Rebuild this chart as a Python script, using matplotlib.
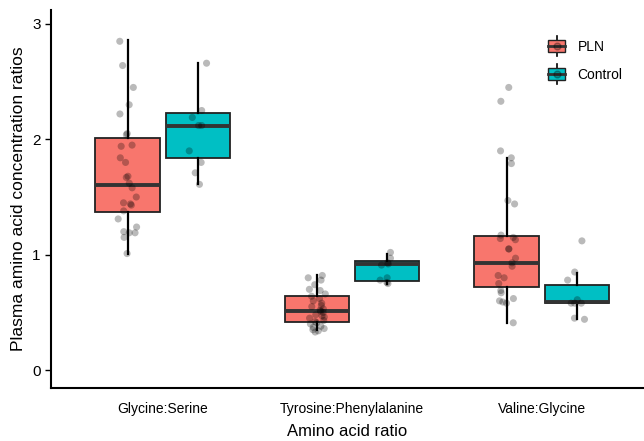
import numpy as np
import matplotlib
matplotlib.use("Agg")
import matplotlib.pyplot as plt
from matplotlib.legend_handler import HandlerBase
from matplotlib.patches import Rectangle, Patch
from matplotlib.lines import Line2D

plt.rcParams['font.family'] = ['Liberation Sans', 'DejaVu Sans']

# categories and groups
ratios = ["Glycine:Serine", "Tyrosine:Phenylalanine", "Valine:Glycine"]
groups = ["PLN", "Control"]
colors = {"PLN": "#F8766D", "Control": "#00BFC4"}

# box statistics (one value per ratio)
pln_q1 = [1.37, 0.42, 0.72]
pln_med = [1.60, 0.51, 0.93]
pln_q3 = [2.01, 0.64, 1.16]
pln_lo = [1.01, 0.35, 0.41]
pln_hi = [2.86, 0.82, 1.84]

ctl_q1 = [1.84, 0.77, 0.58]
ctl_med = [2.12, 0.92, 0.59]
ctl_q3 = [2.23, 0.945, 0.74]
ctl_lo = [1.61, 0.75, 0.44]
ctl_hi = [2.66, 1.01, 0.84]

# individual observations
pln_gly_ser = [2.85, 2.64, 2.45, 2.30, 2.22, 2.04, 2.05, 1.94, 1.95, 1.84, 1.80,
               1.68, 1.67, 1.62, 1.58, 1.50, 1.45, 1.44, 1.43, 1.38, 1.31, 1.24,
               1.20, 1.15, 1.19, 1.19, 1.01]
ctl_gly_ser = [2.66, 2.25, 2.19, 2.12, 2.12, 1.90, 1.80, 1.71, 1.61]
pln_tyr_phe = [0.82, 0.80, 0.78, 0.74, 0.70, 0.69, 0.66, 0.64, 0.62, 0.60, 0.58,
               0.56, 0.55, 0.53, 0.52, 0.51, 0.50, 0.48, 0.47, 0.46, 0.45, 0.43,
               0.42, 0.41, 0.40, 0.38, 0.37, 0.36, 0.35, 0.34, 0.33]
ctl_tyr_phe = [1.02, 0.97, 0.93, 0.92, 0.91, 0.80, 0.78, 0.76, 0.75]
pln_val_gly = [2.45, 2.33, 1.90, 1.84, 1.79, 1.47, 1.44, 1.17, 1.15, 1.14, 1.13,
               1.05, 1.05, 0.97, 0.93, 0.90, 0.82, 0.80, 0.75, 0.69, 0.67, 0.62,
               0.60, 0.59, 0.58, 0.41]
ctl_val_gly = [1.12, 0.85, 0.78, 0.61, 0.58, 0.58, 0.58, 0.45, 0.44]

points = {
    "PLN": [pln_gly_ser, pln_tyr_phe, pln_val_gly],
    "Control": [ctl_gly_ser, ctl_tyr_phe, ctl_val_gly],
}


def make_stats(q1, med, q3, lo, hi):
    return [dict(q1=a, med=b, q3=c, whislo=d, whishi=e, fliers=[])
            for a, b, c, d, e in zip(q1, med, q3, lo, hi)]


stats = {
    "PLN": make_stats(pln_q1, pln_med, pln_q3, pln_lo, pln_hi),
    "Control": make_stats(ctl_q1, ctl_med, ctl_q3, ctl_lo, ctl_hi),
}


class BoxHandler(HandlerBase):
    def create_artists(self, legend, orig_handle, xdescent, ydescent,
                       width, height, fontsize, trans):
        x0, y0 = -xdescent, -ydescent
        fc = orig_handle.get_facecolor()
        vl = Line2D([x0 + width / 2] * 2, [y0 - 0.35 * height, y0 + 1.35 * height],
                    color="black", lw=1.2, transform=trans)
        box = Rectangle((x0, y0), width, height, facecolor=fc,
                        edgecolor="#222222", lw=1.0, transform=trans)
        med = Line2D([x0, x0 + width], [y0 + height / 2] * 2,
                     color="#333333", lw=2, transform=trans)
        dot = Line2D([x0 + width / 2], [y0 + height / 2], marker="o", ms=5,
                     color="black", alpha=0.27, linestyle="none", transform=trans)
        return [vl, box, med, dot]


fig = plt.figure(figsize=(6.44, 4.41), dpi=100)
ax = fig.add_axes([0.079, 0.12, 0.921, 0.857])

x = np.arange(1, len(ratios) + 1)
offsets = {"PLN": -0.185, "Control": 0.185}
rng = np.random.default_rng(3)

for g in groups:
    pos = x + offsets[g]
    ax.bxp(stats[g], positions=pos, widths=0.34, patch_artist=True,
           showcaps=False, showfliers=False,
           boxprops=dict(facecolor=colors[g], edgecolor="#222222", linewidth=1.3),
           medianprops=dict(color="#333333", linewidth=2.8),
           whiskerprops=dict(color="black", linewidth=1.6))
    for p, vals in zip(pos, points[g]):
        jit = rng.uniform(-0.05, 0.05, len(vals))
        ax.scatter(p + jit, vals, s=26, color="black", alpha=0.27,
                   edgecolors="none", zorder=5)

ax.set_xlim(0.41, 3.54)
ax.set_ylim(-0.156, 3.12)
ax.set_xticks(x)
ax.set_xticklabels(ratios, fontsize=10)
ax.set_yticks([0, 1, 2, 3])
ax.tick_params(axis="y", labelsize=11, length=4, width=1)
ax.tick_params(axis="x", length=0, pad=10)
for s in ["top", "right"]:
    ax.spines[s].set_visible(False)
for s in ["left", "bottom"]:
    ax.spines[s].set_linewidth(1.5)

ax.set_xlabel("Amino acid ratio", fontsize=12, labelpad=6)
ax.set_ylabel("Plasma amino acid concentration ratios", fontsize=12.5, labelpad=4)

handles = [Patch(facecolor=colors[g]) for g in groups]
ax.legend(handles, groups, handler_map={Patch: BoxHandler()},
          loc="upper right", bbox_to_anchor=(0.985, 0.955), frameon=False,
          fontsize=10, handlelength=1.2, handleheight=0.95, labelspacing=1.0,
          handletextpad=0.9)

fig.savefig("out.png", dpi=100)
